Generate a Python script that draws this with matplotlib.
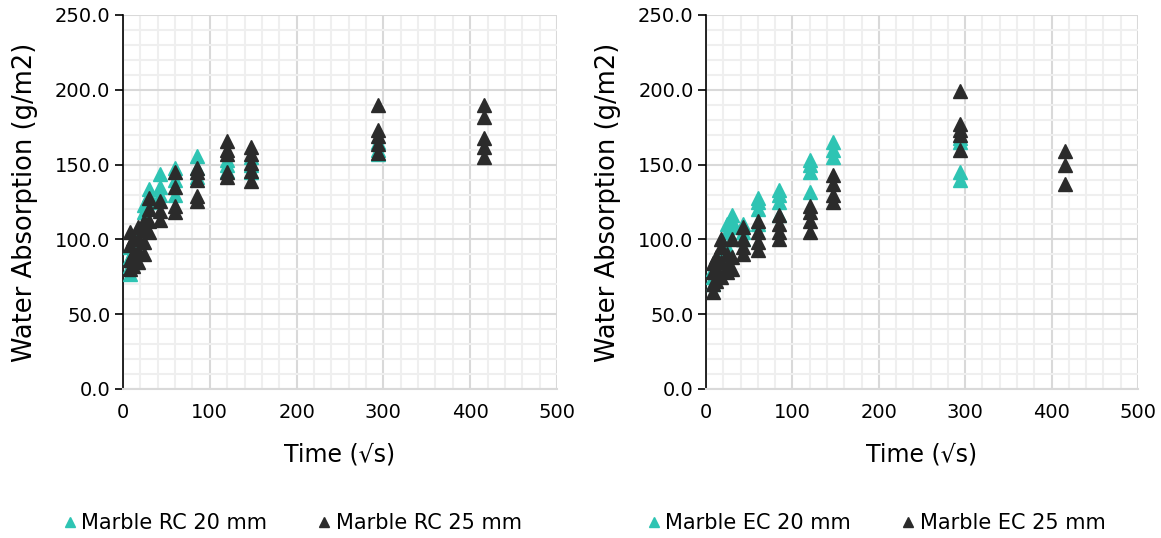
import matplotlib
matplotlib.use("Agg")
import matplotlib.pyplot as plt
from matplotlib.ticker import MultipleLocator, FormatStrFormatter
from matplotlib.lines import Line2D

plt.rcParams['font.family'] = ['DejaVu Sans']

# ---- Data (time in sqrt(s), water absorption in g/m2) ----
rc20_t = [7.7, 7.7, 7.7, 7.7, 12, 12, 17.3, 17.3, 17.3, 24.5, 24.5, 24.5, 30, 30, 30,
          42.4, 42.4, 42.4, 60, 60, 60, 84.9, 84.9, 84.9, 120, 120, 120, 147, 147, 147,
          294, 294, 294]
rc20_v = [77, 82, 88, 95, 85, 92, 92, 100, 106, 110, 118, 123, 125, 130, 134,
          130, 135, 144, 130, 140, 148, 142, 148, 156, 146, 150, 153, 145, 150, 155,
          157, 160, 165]

rc25_t = [7.7, 7.7, 7.7, 7.7, 12, 12, 12, 17.3, 17.3, 17.3, 17.3, 24.5, 24.5, 24.5, 24.5,
          30, 30, 30, 30, 42.4, 42.4, 42.4, 60, 60, 60, 60, 84.9, 84.9, 84.9, 84.9, 84.9,
          120, 120, 120, 120, 120, 147, 147, 147, 147, 147,
          294, 294, 294, 294, 294, 416, 416, 416, 416, 416]
rc25_v = [80, 86, 96, 105, 82, 90, 100, 85, 92, 100, 108, 90, 98, 106, 112,
          105, 112, 120, 128, 113, 119, 126, 118, 122, 135, 145, 126, 129, 140, 145, 148,
          142, 145, 157, 160, 166, 139, 146, 151, 157, 162,
          158, 164, 169, 173, 190, 155, 162, 168, 182, 190]

ec20_t = [7.7, 7.7, 7.7, 12, 12, 17.3, 17.3, 24.5, 24.5, 24.5, 30, 30, 30,
          42.4, 42.4, 42.4, 60, 60, 60, 60, 84.9, 84.9, 84.9, 84.9,
          120, 120, 120, 120, 147, 147, 147, 294, 294, 294, 294]
ec20_v = [70, 75, 80, 80, 86, 86, 92, 95, 105, 110, 108, 112, 116,
          100, 105, 110, 110, 120, 125, 128, 116, 125, 130, 133,
          132, 145, 150, 153, 155, 160, 165, 140, 145, 165, 168]

ec25_t = [7.7, 7.7, 7.7, 7.7, 12, 12, 12, 17.3, 17.3, 17.3, 17.3, 24.5, 24.5, 24.5,
          30, 30, 30, 42.4, 42.4, 42.4, 42.4, 60, 60, 60, 60, 84.9, 84.9, 84.9, 84.9,
          120, 120, 120, 120, 147, 147, 147, 147, 294, 294, 294, 294, 294, 416, 416, 416]
ec25_v = [65, 70, 78, 84, 72, 80, 88, 75, 85, 95, 100, 78, 82, 90,
          80, 88, 100, 90, 95, 100, 108, 93, 98, 105, 112, 100, 105, 110, 116,
          105, 112, 118, 122, 125, 130, 137, 143, 160, 170, 173, 177, 199, 137, 150, 159]

teal = '#2EC4B3'
dark = '#2B2B2B'

fig = plt.figure(figsize=(11.61, 5.38), dpi=100)
ax1 = fig.add_axes([123/1161, 1-389/538, (557-123)/1161, (389-15)/538])
ax2 = fig.add_axes([706/1161, 1-389/538, (1138-706)/1161, (389-15)/538])

panels = [
    (ax1, rc20_t, rc20_v, rc25_t, rc25_v, 'Marble RC 20 mm', 'Marble RC 25 mm', 290/1161),
    (ax2, ec20_t, ec20_v, ec25_t, ec25_v, 'Marble EC 20 mm', 'Marble EC 25 mm', 874/1161),
]

for ax, t1, v1, t2, v2, l1, l2, cx in panels:
    ax.set_xlim(0, 500)
    ax.set_ylim(0, 250)
    ax.xaxis.set_major_locator(MultipleLocator(100))
    ax.xaxis.set_minor_locator(MultipleLocator(20))
    ax.yaxis.set_major_locator(MultipleLocator(50))
    ax.yaxis.set_minor_locator(MultipleLocator(10))
    ax.yaxis.set_major_formatter(FormatStrFormatter('%.1f'))
    ax.grid(which='minor', color='#EFEFEF', lw=1.5, zorder=0)
    ax.grid(which='major', color='#D9D9D9', lw=1.5, zorder=0)
    ax.set_axisbelow(True)
    for s in ['top', 'right']:
        ax.spines[s].set_visible(False)
    ax.spines['left'].set_color('black')
    ax.spines['left'].set_linewidth(1.2)
    ax.spines['bottom'].set_color('#D9D9D9')
    ax.spines['bottom'].set_linewidth(1.5)
    ax.tick_params(axis='y', which='major', length=6, width=1.2, color='black',
                   labelsize=14, pad=3)
    ax.tick_params(axis='y', which='minor', length=0)
    ax.tick_params(axis='x', which='both', length=0, labelsize=14, pad=10)
    ax.plot(t1, v1, linestyle='none', marker='^', ms=9.5, color=teal, mec=teal, zorder=3)
    ax.plot(t2, v2, linestyle='none', marker='^', ms=9.5, color=dark, mec=dark, zorder=4)
    ax.set_xlabel('Time (√s)', fontsize=17, labelpad=15)
    ax.set_ylabel('Water Absorption (g/m2)', fontsize=18.5, labelpad=12)
    handles = [Line2D([], [], linestyle='none', marker='^', ms=7.5, color=teal),
               Line2D([], [], linestyle='none', marker='^', ms=7.5, color=dark)]
    fig.legend(handles, [l1, l2], loc='center', bbox_to_anchor=(cx, 1-523/538),
               ncol=2, frameon=False, fontsize=15, handletextpad=0.0,
               columnspacing=2.2, handlelength=1.1)

fig.savefig('out.png', dpi=100)
